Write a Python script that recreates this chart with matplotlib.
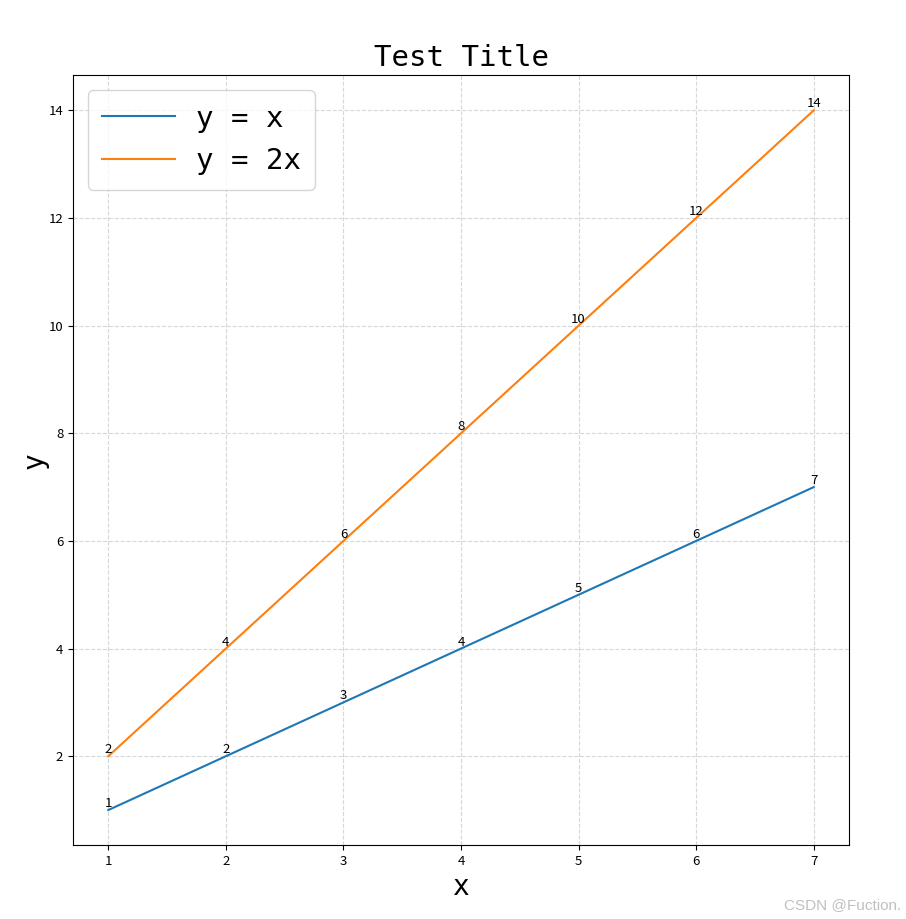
import matplotlib.pyplot as plt

plt.rcParams['font.family'] = ['Noto Sans CJK SC', 'DejaVu Sans']

x = [1, 2, 3, 4, 5, 6, 7]
y1 = [1, 2, 3, 4, 5, 6, 7]
y2 = [2, 4, 6, 8, 10, 12, 14]
labels = ["y = x", "y = 2x"]

fig = plt.figure(figsize=(9.06, 9.19), dpi=100)
ax = fig.add_axes([0.0806, 0.0805, 0.8565, 0.8375])

ax.plot(x, y1, label=labels[0])
ax.plot(x, y2, label=labels[1])

for xi, yi in zip(x, y1):
    ax.text(xi, yi, str(yi), ha="center", va="bottom", fontsize=9.5)
for xi, yi in zip(x, y2):
    ax.text(xi, yi, str(yi), ha="center", va="bottom", fontsize=9.5)

mono = ['DejaVu Sans Mono']
ax.set_title("Test Title", fontsize=21, family=mono, fontweight="medium", pad=7)
ax.set_xlabel("x", fontsize=20, family=mono, labelpad=4)
ax.set_ylabel("y", fontsize=20, family=mono, labelpad=0)
ax.grid(True, linestyle="--", alpha=0.5)
ax.tick_params(labelsize=9.5)
ax.legend(loc="upper left", prop={"family": mono, "size": 21},
          handlelength=2.5, handletextpad=0.7, borderaxespad=0.5,
          borderpad=0.5)

fig.text(0.995, 0.008, "CSDN @Fuction.", ha="right", va="bottom",
         fontsize=11, color="#c0c0c0", family=['Liberation Sans'])

fig.savefig("out.png", dpi=100)
